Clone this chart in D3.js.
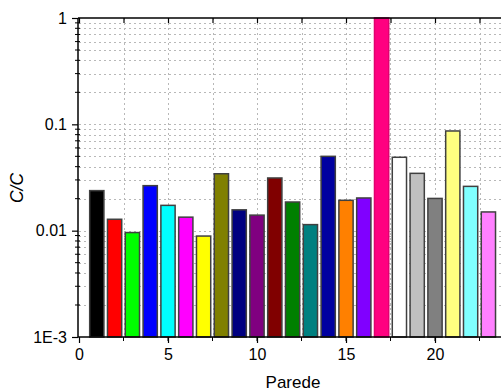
<!DOCTYPE html>
<html><head><meta charset="utf-8">
<script src="https://cdn.jsdelivr.net/npm/d3@7"></script>
<style>html,body{margin:0;padding:0;background:#fff;overflow:hidden}</style>
</head><body>
<svg id="c" width="501" height="392"></svg>
<script>
const categories = [1,2,3,4,5,6,7,8,9,10,11,12,13,14,15,16,17,18,19,20,21,22,23];
const values = [0.0238,0.0128,0.0096,0.0265,0.0173,0.0134,0.0089,0.0343,0.0157,0.0140,0.0313,0.0186,0.0114,0.0500,0.0193,0.0203,1.0,0.0490,0.0346,0.0201,0.0866,0.0261,0.0150];
const colors = ["#000000","#ff0000","#00ff00","#0000ff","#00ffff","#ff00ff","#ffff00","#808000","#000080","#800080","#800000","#008000","#008080","#0000a0","#ff8000","#8000ff","#ff0080","#ffffff","#c0c0c0","#808080","#ffff80","#80ffff","#ff80ff"];
const xTicks = [0,5,10,15,20];
const yTicks = [0.001,0.01,0.1,1];
const yTickLabels = ["1E-3","0.01","0.1","1"];
const xLabel = "Parede";
const yLabel = "C/C";

const svg = d3.select("#c");
const x = d3.scaleLinear().domain([0,25]).range([79,524]);
const y = d3.scaleLog().domain([0.001,1]).range([337,18]);
const font = "Arial, 'Liberation Sans', sans-serif";

// grid
const minorY = [];
for (let d=0.001; d<1; d*=10) for (let k=1;k<10;k++) minorY.push(d*k);
minorY.push(1);
const gGrid = svg.append("g");
gGrid.selectAll("line.h").data(minorY.filter(v=>v>0.001&&v<1)).join("line")
  .attr("x1",79).attr("x2",501).attr("y1",d=>Math.round(y(d))+0.5).attr("y2",d=>Math.round(y(d))+0.5)
  .attr("stroke","#b8b8b8").attr("stroke-width",1).attr("stroke-dasharray","2,3");
const xGrid = d3.range(2.5,25,2.5);
gGrid.selectAll("line.v").data(xGrid).join("line")
  .attr("x1",d=>Math.round(x(d))+0.5).attr("x2",d=>Math.round(x(d))+0.5).attr("y1",18).attr("y2",337)
  .attr("stroke","#b8b8b8").attr("stroke-width",1).attr("stroke-dasharray","2,3");

// bars
const bw = x(0.8)-x(0);
svg.append("g").selectAll("rect").data(categories).join("rect")
  .attr("x",(d)=>x(d)-bw/2).attr("width",bw)
  .attr("y",(d,i)=>y(values[i])).attr("height",(d,i)=>337-y(values[i]))
  .attr("fill",(d,i)=>colors[i]).attr("stroke",(d,i)=>i===16?"#e00070":"#404040").attr("stroke-width",1.5);

// axes
const gx = svg.append("g").attr("transform","translate(0,337)")
  .call(d3.axisBottom(x).tickValues(xTicks).tickFormat(d3.format("d")).tickSize(6).tickSizeOuter(0));
gx.append("g").selectAll("line").data(xGrid).join("line")
  .attr("x1",d=>x(d)).attr("x2",d=>x(d)).attr("y1",0).attr("y2",4).attr("stroke","#000");
const gt = svg.append("g").attr("transform","translate(0,18)")
  .call(d3.axisTop(x).tickValues(d3.range(0,25,2.5)).tickFormat("").tickSize(-5).tickSizeOuter(0));
const gy = svg.append("g").attr("transform","translate(78,0)")
  .call(d3.axisLeft(y).tickValues(yTicks).tickFormat((d,i)=>yTickLabels[i]).tickSize(6).tickSizeOuter(0));
gy.append("g").selectAll("line").data(minorY.filter(v=>yTicks.indexOf(v)<0 && v>0.001 && v<1)).join("line")
  .attr("x1",-3).attr("x2",2).attr("y1",d=>y(d)).attr("y2",d=>y(d)).attr("stroke","#000");
[gx,gt,gy].forEach(g=>{
  g.select(".domain").attr("stroke","#000").attr("stroke-width",1.5);
  g.selectAll(".tick line").attr("stroke","#000").attr("stroke-width",1.2);
  g.selectAll("text").attr("font-family",font).attr("font-size",16).attr("fill","#000");
});
gx.selectAll(".tick text").attr("dy","0.9em");
gy.selectAll(".tick text").attr("dx","-2");
gx.select(".domain").attr("d","M78,0H501");
gt.select(".domain").attr("d","M78,0H501");
gy.select(".domain").attr("d","M0,18V337");

svg.append("text").attr("x",293).attr("y",388).attr("text-anchor","middle")
  .attr("font-family",font).attr("font-size",17).text(xLabel);
svg.append("text").attr("transform","translate(23,188) rotate(-90)").attr("text-anchor","middle")
  .attr("font-family",font).attr("font-size",17.5).attr("font-style","italic").text(yLabel);
</script>
</body></html>
